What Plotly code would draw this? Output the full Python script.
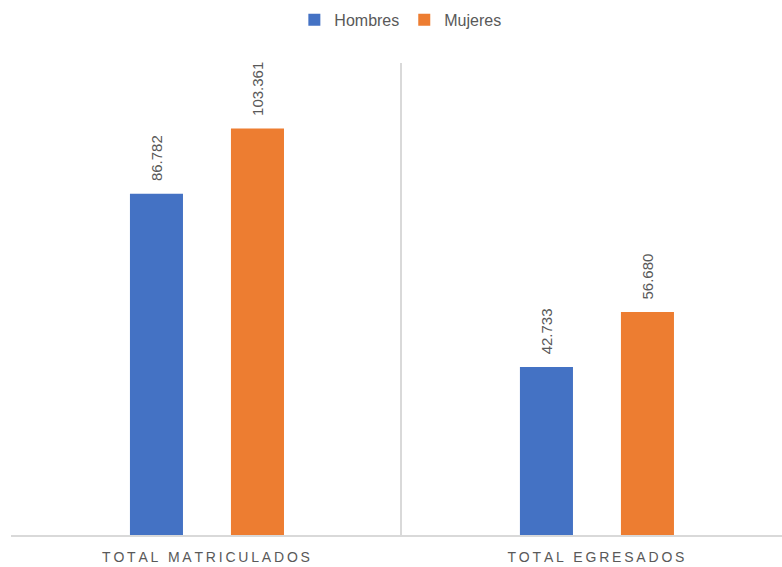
import plotly.graph_objects as go

categories = ["TOTAL MATRICULADOS", "TOTAL EGRESADOS"]
hombres = [86782, 42733]
mujeres = [103361, 56680]

x_pos = [0, 1]
grey_text = "#595959"
font_family = "Liberation Sans, Arial, sans-serif"
THIN = "\u2009"


def tracked(label):
    """Spread the letters of an axis label with thin spaces."""
    return THIN.join(label)


def fmt(v):
    return f"{v:,}".replace(",", ".")


fig = go.Figure()
series = [("Hombres", hombres, "#4472C4", -0.195), ("Mujeres", mujeres, "#ED7D31", 0.064)]
bar_w = 0.136
for name, vals, color, off in series:
    fig.add_trace(go.Bar(
        name=name, x=x_pos, y=vals, marker_color=color,
        width=bar_w, offset=off, marker_line_width=0,
    ))
    for xi, v in zip(x_pos, vals):
        fig.add_annotation(
            x=xi + off + bar_w / 2, y=v, text=fmt(v), textangle=-90,
            showarrow=False, yanchor="bottom", xanchor="center", yshift=11,
            font=dict(size=15, color=grey_text, family=font_family),
        )

fig.update_layout(
    width=782, height=567,
    margin=dict(l=11, r=0, t=63, b=32),
    paper_bgcolor="white", plot_bgcolor="white",
    barmode="overlay",
    font=dict(family=font_family, color=grey_text),
    legend=dict(orientation="h", x=0.505, xanchor="center", y=0.995, yanchor="top",
                yref="container", font=dict(size=16, color=grey_text),
                itemwidth=30, traceorder="normal"),
    showlegend=True,
)

fig.update_xaxes(
    range=[-0.5, 1.477], tickmode="array", tickvals=x_pos,
    ticktext=[tracked(c) for c in categories],
    showgrid=False, showline=True, linecolor="#D9D9D9", linewidth=1.5,
    ticks="", tickfont=dict(size=14, color=grey_text), zeroline=False,
    ticklabelstandoff=8,
    minor=dict(tickmode="linear", tick0=-0.5, dtick=1, showgrid=True,
               gridcolor="#D9D9D9", gridwidth=1.5, ticks=""),
)
fig.update_yaxes(range=[0, 120000], showgrid=False, showticklabels=False,
                 zeroline=False, showline=False)

fig.write_html("out.html")
